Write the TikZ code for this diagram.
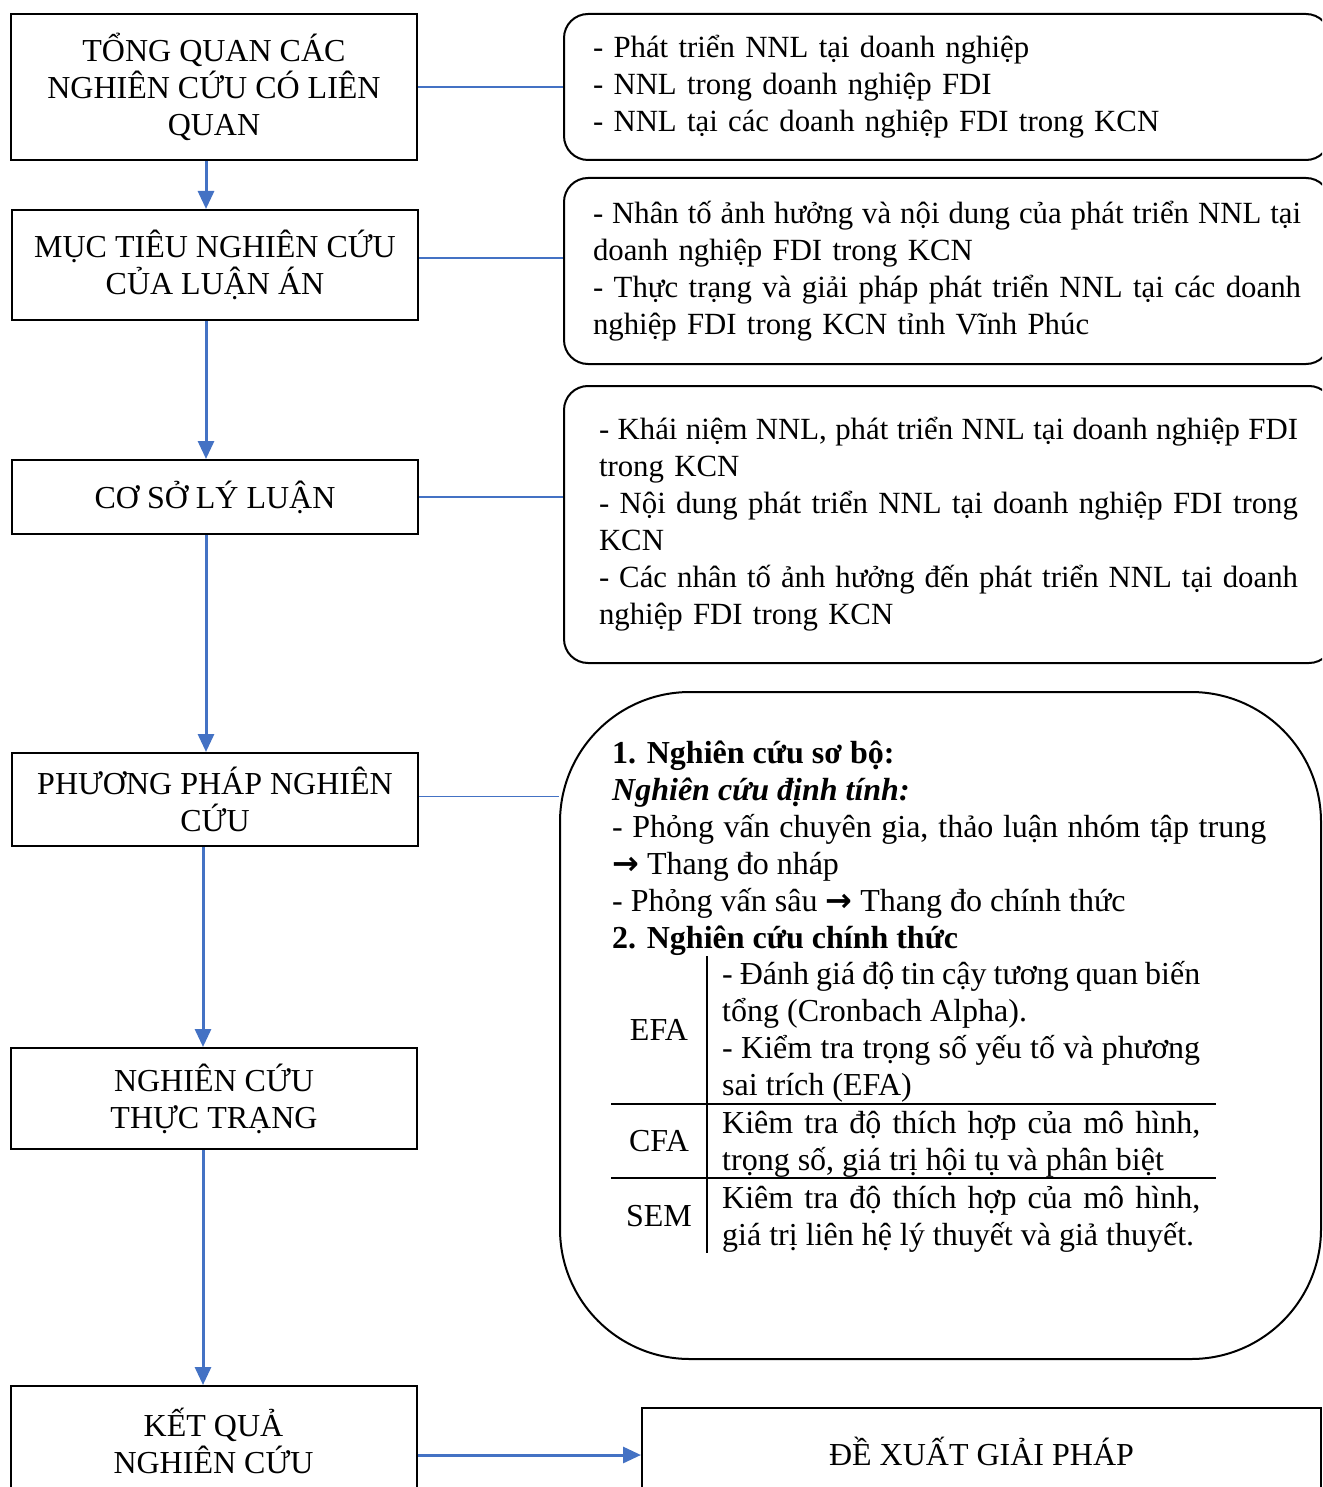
\documentclass[tikz,border=0pt]{standalone}
\usepackage{fontspec}
\setmainfont{Liberation Serif}
\newfontfamily\arrowfont{DejaVu Sans}
\usetikzlibrary{arrows.meta}
\definecolor{linkblue}{HTML}{4472C4}
\newcommand{\fitline}[2]{{\spaceskip=0.25em plus 0.3em minus 0.12em\relax\makebox[#1][s]{#2}}}

\begin{document}
\begin{tikzpicture}[x=1pt, y=1pt,
		font=\fontsize{32}{37}\selectfont,
		box/.style={draw=black, line width=2pt, minimum width=406, align=center, inner sep=0pt},
		note/.style={draw=black, line width=2pt, rounded corners=24pt, anchor=west, align=left, inner ysep=0pt, font=\fontsize{30.8}{37}\selectfont},
		link/.style={draw=linkblue, line width=1.5pt},
		flow/.style={draw=linkblue, line width=3pt, -{Triangle[length=18pt, width=16pt]}},
		cell/.style={anchor=base west, inner sep=0pt, align=left}]
	\useasboundingbox (0,0) rectangle (1322,-1487);
	\clip (0,0) rectangle (1322,-1487);
	% left column
	\node[box, minimum height=146] (1) at (214,-87) {TỔNG QUAN CÁC\\NGHIÊN CỨU CÓ LIÊN\\QUAN};
	\node[box, minimum height=110] (2) at (215,-265) {MỤC TIÊU NGHIÊN CỨU\\CỦA LUẬN ÁN};
	\node[box, minimum height=74] (3) at (215,-497) {CƠ SỞ LÝ LUẬN};
	\node[box, minimum height=93] (4) at (215,-799.5) {PHƯƠNG PHÁP NGHIÊN\\CỨU};
	\node[box, minimum height=101] (5) at (214,-1098.5) {NGHIÊN CỨU\\THỰC TRẠNG};
	\node[box, minimum height=110] (6) at (213.5,-1441) {KẾT QUẢ\\NGHIÊN CỨU};
	% right column
	\node[note, text width=708, inner xsep=29, minimum height=146] (7) at (563,-87) {- Phát triển NNL tại doanh nghiệp\\- NNL trong doanh nghiệp FDI\\- NNL tại các doanh nghiệp FDI trong KCN};
	\node[note, text width=708, inner xsep=29, minimum height=186] (8) at (563,-271) {\fitline{708pt}{- Nhân tố ảnh hưởng và nội dung của phát triển NNL tại}\\doanh nghiệp FDI trong KCN\\\fitline{708pt}{- Thực trạng và giải pháp phát triển NNL tại các doanh}\\nghiệp FDI trong KCN tỉnh Vĩnh Phúc};
	\node[note, text width=699, inner xsep=35, minimum height=277] (9) at (563,-524.5) {\fitline{699pt}{- Khái niệm NNL, phát triển NNL tại doanh nghiệp FDI}\\trong KCN\\\fitline{699pt}{- Nội dung phát triển NNL tại doanh nghiệp FDI trong}\\KCN\\\fitline{699pt}{- Các nhân tố ảnh hưởng đến phát triển NNL tại doanh}\\nghiệp FDI trong KCN};
	\node[draw=black, line width=2pt, rounded corners=130pt, minimum width=761, minimum height=667, anchor=north west] (10) at (559,-691) {};
	\node[draw=black, line width=2pt, minimum width=679, minimum height=86, anchor=north west] (11) at (641,-1407) {ĐỀ XUẤT GIẢI PHÁP};
	% text of the method box
	\node[cell] (12) at (612,-948) {\textbf{1. Nghiên cứu sơ bộ:}\\\textbf{\textit{Nghiên cứu định tính:}}\\\fitline{654pt}{- Phỏng vấn chuyên gia, thảo luận nhóm tập trung}\\{\arrowfont\bfseries →} Thang đo nháp\\- Phỏng vấn sâu {\arrowfont\bfseries →} Thang đo chính thức\\\textbf{2. Nghiên cứu chính thức}};
	\draw[line width=1.5pt] (707,-956) -- (707,-1253);
	\draw[line width=1.5pt] (611,-1104) -- (1216,-1104);
	\draw[line width=1.5pt] (611,-1178) -- (1216,-1178);
	\node (13) at (659,-1030) {EFA};
	\node (14) at (659,-1141) {CFA};
	\node (15) at (659,-1216) {SEM};
	\node[cell] (16) at (722,-1095) {\fitline{478pt}{- Đánh giá độ tin cậy tương quan biến}\\tổng (Cronbach Alpha).\\\fitline{478pt}{- Kiểm tra trọng số yếu tố và phương}\\sai trích (EFA)};
	\node[cell] (17) at (722,-1170) {\fitline{478pt}{Kiêm tra độ thích hợp của mô hình,}\\trọng số, giá trị hội tụ và phân biệt};
	\node[cell] (18) at (722,-1245) {\fitline{478pt}{Kiêm tra độ thích hợp của mô hình,}\\giá trị liên hệ lý thuyết và giả thuyết.};
	% connectors
	\draw[link] (1.east) -- (1.east -| 7.west);
	\draw[link] ([yshift=7]2.east) -- ([yshift=7]2.east -| 8.west);
	\draw[link] (3.east) -- (3.east -| 9.west);
	\draw[link] ([yshift=3]4.east) -- ([yshift=3]4.east -| 10.west);
	\draw[flow] ([xshift=-8]1.south) -- ([xshift=-8]1.south |- 2.north);
	\draw[flow] ([xshift=-9]2.south) -- ([xshift=-9]2.south |- 3.north);
	\draw[flow] ([xshift=-9]3.south) -- ([xshift=-9]3.south |- 4.north);
	\draw[flow] ([xshift=-12]4.south) -- ([xshift=-12]4.south |- 5.north);
	\draw[flow] ([xshift=-11]5.south) -- ([xshift=-11]5.south |- 6.north);
	\draw[flow] ([yshift=-14]6.east) -- ([yshift=-14]6.east -| 11.west);
\end{tikzpicture}
\end{document}
